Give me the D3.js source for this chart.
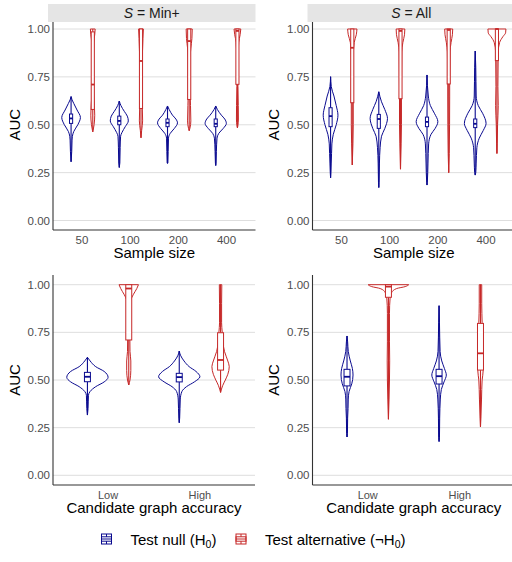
<!DOCTYPE html>
<html>
<head>
<meta charset="utf-8">
<script src="https://cdn.jsdelivr.net/npm/d3@7"></script>
<style>
  body { margin: 0; background: #fff; }
  svg { font-family: "Liberation Sans", Arial, sans-serif; }
</style>
</head>
<body>
<div id="chart"></div>
<script>
const sampleSizes = ["50", "100", "200", "400"];
const accuracyLevels = ["Low", "High"];
const yTicks = [0, 0.25, 0.5, 0.75, 1];

// box stats: [lower whisker, q1, median, q3, upper whisker]
const boxMinNull = [[0.307, 0.507, 0.533, 0.556, 0.647], [0.277, 0.50, 0.52, 0.545, 0.624], [0.298, 0.49, 0.51, 0.53, 0.598], [0.287, 0.49, 0.505, 0.53, 0.598]];
const boxMinAlt = [[0.463, 0.58, 0.71, 0.985, 1], [0.432, 0.585, 0.833, 1, 1], [0.469, 0.632, 0.937, 1, 1], [0.484, 0.711, 0.99, 1, 1]];
const boxAllNull = [[0.223, 0.49, 0.545, 0.589, 0.751], [0.172, 0.481, 0.53, 0.554, 0.672], [0.185, 0.49, 0.515, 0.54, 0.76], [0.237, 0.485, 0.505, 0.53, 0.885]];
const boxAllAlt = [[0.29, 0.615, 0.902, 1, 1], [0.268, 0.636, 0.99, 1, 1], [0.25, 0.713, 0.995, 1, 1], [0.35, 0.835, 1, 1, 1]];
const boxAccMinNull = [[0.316, 0.491, 0.517, 0.54, 0.619], [0.276, 0.49, 0.515, 0.535, 0.652]];
const boxAccMinAlt = [[0.474, 0.71, 0.98, 1, 1], [0.435, 0.552, 0.605, 0.748, 1]];
const boxAccAllNull = [[0.201, 0.469, 0.517, 0.556, 0.731], [0.177, 0.479, 0.52, 0.556, 0.89]];
const boxAccAllAlt = [[0.294, 0.934, 0.99, 1, 1], [0.254, 0.552, 0.64, 0.797, 1]];

// violin profiles: [AUC, relative density]
const violinMinNull = [
  [[0.647, 0], [0.63, 0.09], [0.611, 0.25], [0.577, 0.55], [0.538, 0.86], [0.50, 0.62], [0.465, 0.25], [0.44, 0.12], [0.42, 0.09], [0.36, 0.06], [0.307, 0]],
  [[0.624, 0], [0.60, 0.15], [0.57, 0.46], [0.545, 0.74], [0.52, 0.83], [0.49, 0.55], [0.46, 0.25], [0.44, 0.12], [0.38, 0.08], [0.30, 0.05], [0.277, 0]],
  [[0.598, 0], [0.58, 0.15], [0.55, 0.46], [0.53, 0.77], [0.51, 0.92], [0.48, 0.62], [0.455, 0.25], [0.43, 0.09], [0.36, 0.06], [0.30, 0.03], [0.298, 0]],
  [[0.598, 0], [0.58, 0.15], [0.55, 0.52], [0.53, 0.83], [0.507, 0.98], [0.48, 0.68], [0.455, 0.28], [0.43, 0.12], [0.36, 0.06], [0.30, 0.03], [0.287, 0]]
];
const violinMinAlt = [
  [[1, 0.22], [0.97, 0.18], [0.93, 0.09], [0.85, 0.06], [0.75, 0.06], [0.65, 0.09], [0.60, 0.15], [0.55, 0.18], [0.50, 0.12], [0.47, 0.03], [0.463, 0]],
  [[1, 0.22], [0.95, 0.18], [0.90, 0.15], [0.80, 0.09], [0.70, 0.08], [0.60, 0.12], [0.52, 0.15], [0.47, 0.06], [0.432, 0]],
  [[1, 0.28], [0.95, 0.25], [0.90, 0.15], [0.85, 0.09], [0.70, 0.08], [0.60, 0.12], [0.52, 0.15], [0.48, 0.06], [0.469, 0]],
  [[1, 0.31], [0.97, 0.25], [0.93, 0.12], [0.85, 0.06], [0.70, 0.05], [0.60, 0.08], [0.53, 0.09], [0.49, 0.03], [0.484, 0]]
];
const violinAllNull = [
  [[0.751, 0], [0.70, 0.06], [0.65, 0.31], [0.60, 0.52], [0.55, 0.68], [0.50, 0.52], [0.45, 0.25], [0.40, 0.12], [0.35, 0.09], [0.30, 0.06], [0.25, 0.03], [0.223, 0]],
  [[0.672, 0], [0.62, 0.25], [0.58, 0.55], [0.533, 0.80], [0.48, 0.55], [0.44, 0.25], [0.38, 0.12], [0.30, 0.06], [0.20, 0.03], [0.172, 0]],
  [[0.76, 0], [0.65, 0.12], [0.60, 0.31], [0.56, 0.68], [0.516, 1.0], [0.48, 0.74], [0.45, 0.37], [0.40, 0.15], [0.30, 0.09], [0.20, 0.03], [0.185, 0]],
  [[0.885, 0], [0.80, 0.05], [0.65, 0.09], [0.60, 0.28], [0.56, 0.68], [0.507, 1.0], [0.47, 0.74], [0.43, 0.37], [0.38, 0.15], [0.30, 0.09], [0.25, 0.05], [0.237, 0]]
];
const violinAllAlt = [
  [[1, 0.43], [0.97, 0.37], [0.93, 0.18], [0.85, 0.09], [0.70, 0.09], [0.50, 0.09], [0.40, 0.06], [0.29, 0]],
  [[1, 0.40], [0.97, 0.37], [0.93, 0.22], [0.88, 0.12], [0.70, 0.09], [0.50, 0.09], [0.40, 0.06], [0.268, 0]],
  [[1, 0.37], [0.97, 0.34], [0.93, 0.22], [0.88, 0.12], [0.75, 0.09], [0.65, 0.09], [0.50, 0.08], [0.35, 0.05], [0.25, 0]],
  [[1, 0.83], [0.98, 0.80], [0.96, 0.55], [0.93, 0.25], [0.88, 0.12], [0.70, 0.09], [0.60, 0.12], [0.50, 0.06], [0.40, 0.03], [0.35, 0]]
];
const violinAccMinNull = [
  [[0.619, 0], [0.60, 0.13], [0.57, 0.40], [0.545, 0.81], [0.514, 1.0], [0.49, 0.81], [0.465, 0.40], [0.44, 0.13], [0.42, 0.05], [0.35, 0.03], [0.316, 0]],
  [[0.652, 0], [0.63, 0.06], [0.60, 0.23], [0.57, 0.48], [0.545, 0.81], [0.517, 1.0], [0.49, 0.73], [0.465, 0.35], [0.44, 0.13], [0.40, 0.05], [0.30, 0.02], [0.276, 0]]
];
const violinAccMinAlt = [
  [[1, 0.47], [0.98, 0.39], [0.95, 0.23], [0.92, 0.10], [0.88, 0.05], [0.75, 0.05], [0.65, 0.06], [0.60, 0.10], [0.55, 0.10], [0.50, 0.06], [0.474, 0]],
  [[1, 0.06], [0.90, 0.05], [0.80, 0.05], [0.75, 0.08], [0.70, 0.11], [0.65, 0.19], [0.60, 0.35], [0.57, 0.42], [0.53, 0.35], [0.50, 0.23], [0.47, 0.10], [0.435, 0]]
];
const violinAccAllNull = [
  [[0.731, 0], [0.70, 0.03], [0.65, 0.06], [0.60, 0.16], [0.56, 0.26], [0.526, 0.29], [0.48, 0.23], [0.44, 0.10], [0.40, 0.06], [0.35, 0.05], [0.30, 0.03], [0.22, 0.02], [0.201, 0]],
  [[0.89, 0], [0.80, 0.02], [0.65, 0.05], [0.60, 0.13], [0.56, 0.26], [0.526, 0.35], [0.49, 0.24], [0.45, 0.11], [0.40, 0.06], [0.30, 0.03], [0.20, 0.02], [0.177, 0]]
];
const violinAccAllAlt = [
  [[1, 0.98], [0.99, 0.81], [0.98, 0.40], [0.96, 0.16], [0.93, 0.08], [0.85, 0.05], [0.70, 0.05], [0.60, 0.06], [0.50, 0.05], [0.40, 0.03], [0.294, 0]],
  [[1, 0.06], [0.90, 0.06], [0.80, 0.08], [0.70, 0.10], [0.60, 0.11], [0.55, 0.13], [0.50, 0.08], [0.40, 0.05], [0.30, 0.02], [0.254, 0]]
];

const colNull = "#0a0a8f";
const colAlt = "#c62828";

const panels = [
  { strip: "Min+", cats: sampleSizes, title: "Sample size", left: 53, right: 255.5, top: 22, y1: 29, y0: 220.5, bottom: 230,
    nullBox: boxMinNull, altBox: boxMinAlt, nullViolin: violinMinNull, altViolin: violinMinAlt },
  { strip: "All", cats: sampleSizes, title: "Sample size", left: 312.5, right: 515, top: 22, y1: 29, y0: 220.5, bottom: 230,
    nullBox: boxAllNull, altBox: boxAllAlt, nullViolin: violinAllNull, altViolin: violinAllAlt },
  { strip: null, cats: accuracyLevels, title: "Candidate graph accuracy", left: 53, right: 255, top: 275, y1: 284.7, y0: 475.3, bottom: 485,
    nullBox: boxAccMinNull, altBox: boxAccMinAlt, nullViolin: violinAccMinNull, altViolin: violinAccMinAlt },
  { strip: null, cats: accuracyLevels, title: "Candidate graph accuracy", left: 312.5, right: 515, top: 275, y1: 284.7, y0: 475.3, bottom: 485,
    nullBox: boxAccAllNull, altBox: boxAccAllAlt, nullViolin: violinAccAllNull, altViolin: violinAccAllAlt }
];

const width = 512, height = 562;
const svg = d3.select("#chart").append("svg")
  .attr("width", width)
  .attr("height", height);

panels.forEach(p => {
  const n = p.cats.length;
  const x = d3.scaleLinear().domain([0.4, n + 0.6]).range([p.left, p.right]);
  const y = d3.scaleLinear().domain([0, 1]).range([p.y0, p.y1]);
  const unit = x(1) - x(0);
  const w = d3.scaleLinear().domain([0, 1]).range([0, 0.225 * unit]);
  const g = svg.append("g");

  // strip
  if (p.strip) {
    g.append("rect")
      .attr("x", p.left - 5).attr("y", 4)
      .attr("width", p.right - p.left + 5).attr("height", 18)
      .attr("fill", "#e5e5e5");
    const t = g.append("text")
      .attr("x", (p.left - 5 + Math.min(p.right, 512 + 3)) / 2 + (p.right > 512 ? 0 : 0))
      .attr("y", 18.2)
      .attr("text-anchor", "middle")
      .attr("font-size", 14)
      .attr("fill", "#1a1a1a");
    t.append("tspan").attr("font-style", "italic").text("S");
    t.append("tspan").text(" = " + p.strip);
  }

  // grid
  g.selectAll(".grid").data(yTicks).join("line")
    .attr("x1", p.left).attr("x2", p.right)
    .attr("y1", d => y(d)).attr("y2", d => y(d))
    .attr("stroke", "#dadada").attr("stroke-width", 0.9);

  // y labels
  g.selectAll(".ylab").data(yTicks).join("text")
    .attr("x", p.left - 3).attr("y", d => y(d) + 4)
    .attr("text-anchor", "end")
    .attr("font-size", 11.5)
    .attr("fill", "#4d4d4d")
    .text(d3.format(".2f"));

  // x labels
  g.selectAll(".xlab").data(p.cats).join("text")
    .attr("x", (d, i) => x(i + 1))
    .attr("y", p.bottom + 13.5)
    .attr("text-anchor", "middle")
    .attr("font-size", n === 4 ? 11.5 : 11)
    .attr("fill", "#4d4d4d")
    .text(d => d);

  // axis titles
  g.append("text")
    .attr("transform", `translate(19.5,${(p.y0 + p.y1) / 2}) rotate(-90)`)
    .attr("x", p.left > 100 ? 0 : 0)
    .attr("text-anchor", "middle")
    .attr("font-size", 15)
    .attr("fill", "#000")
    .attr("dx", 0)
    .each(function () { if (p.left > 100) d3.select(this).attr("transform", `translate(${19.5 + 259.5},${(p.y0 + p.y1) / 2}) rotate(-90)`); })
    .text("AUC");
  g.append("text")
    .attr("x", (p.left + p.right) / 2)
    .attr("y", p.bottom + 28)
    .attr("text-anchor", "middle")
    .attr("font-size", 15)
    .attr("fill", "#000")
    .text(p.title);

  // violins
  const groups = [
    { col: colNull, off: -0.225, violins: p.nullViolin, boxes: p.nullBox },
    { col: colAlt, off: 0.225, violins: p.altViolin, boxes: p.altBox }
  ];
  groups.forEach(grp => {
    grp.violins.forEach((prof, i) => {
      const cx = x(i + 1 + grp.off);
      const area = d3.area()
        .y(d => y(d[0]))
        .x0(d => cx - w(d[1]))
        .x1(d => cx + w(d[1]))
        .curve(d3.curveMonotoneY);
      g.append("path")
        .datum(prof)
        .attr("d", area)
        .attr("fill", "#fff")
        .attr("stroke", grp.col)
        .attr("stroke-width", 1);
    });
  });
  groups.forEach(grp => {
    grp.boxes.forEach((b, i) => {
      const cx = x(i + 1 + grp.off);
      const bw = 0.065 * unit;
      g.append("line")
        .attr("x1", cx).attr("x2", cx)
        .attr("y1", y(b[0])).attr("y2", y(b[1]))
        .attr("stroke", grp.col).attr("stroke-width", 1.1);
      g.append("line")
        .attr("x1", cx).attr("x2", cx)
        .attr("y1", y(b[3])).attr("y2", y(b[4]))
        .attr("stroke", grp.col).attr("stroke-width", 1.1);
      g.append("rect")
        .attr("x", cx - bw / 2).attr("width", bw)
        .attr("y", y(b[3])).attr("height", Math.max(0.5, y(b[1]) - y(b[3])))
        .attr("fill", "#fff")
        .attr("stroke", grp.col).attr("stroke-width", 1);
      g.append("line")
        .attr("x1", cx - bw / 2).attr("x2", cx + bw / 2)
        .attr("y1", y(b[2])).attr("y2", y(b[2]))
        .attr("stroke", grp.col).attr("stroke-width", 1.8);
    });
  });

  // axis lines
  g.append("line")
    .attr("x1", p.left).attr("x2", p.left)
    .attr("y1", p.top).attr("y2", p.bottom)
    .attr("stroke", "#333").attr("stroke-width", 1.1);
  g.append("line")
    .attr("x1", p.left).attr("x2", p.right)
    .attr("y1", p.bottom).attr("y2", p.bottom)
    .attr("stroke", "#333").attr("stroke-width", 1.1);
});

// legend
const legendItems = [
  { col: colNull, x: 101.5, label: "Test null (H", tail: ")" },
  { col: colAlt, x: 236, label: "Test alternative (\u00acH", tail: ")" }
];
const lg = svg.append("g");
legendItems.forEach(it => {
  const k = lg.append("g").attr("transform", `translate(${it.x},534)`);
  const kw = 10, kh = 10;
  k.append("rect").attr("width", kw).attr("height", kh)
    .attr("fill", "#fff").attr("stroke", it.col).attr("stroke-width", 1);
  k.append("rect").attr("y", kh * 0.28).attr("width", kw).attr("height", kh * 0.44)
    .attr("fill", "none").attr("stroke", it.col).attr("stroke-width", 1);
  k.append("line").attr("x1", 0).attr("x2", kw).attr("y1", kh / 2).attr("y2", kh / 2)
    .attr("stroke", it.col).attr("stroke-width", 1);
  k.append("line").attr("x1", kw / 2).attr("x2", kw / 2).attr("y1", 0).attr("y2", kh * 0.28)
    .attr("stroke", it.col).attr("stroke-width", 1);
  k.append("line").attr("x1", kw / 2).attr("x2", kw / 2).attr("y1", kh * 0.72).attr("y2", kh)
    .attr("stroke", it.col).attr("stroke-width", 1);
  const t = lg.append("text")
    .attr("x", it.x + 29)
    .attr("y", 544.5)
    .attr("font-size", 15)
    .attr("fill", "#000");
  t.append("tspan").text(it.label);
  t.append("tspan").attr("font-size", 10.5).attr("dy", 3).text("0");
  t.append("tspan").attr("dy", -3).text(it.tail);
});
</script>
</body>
</html>
